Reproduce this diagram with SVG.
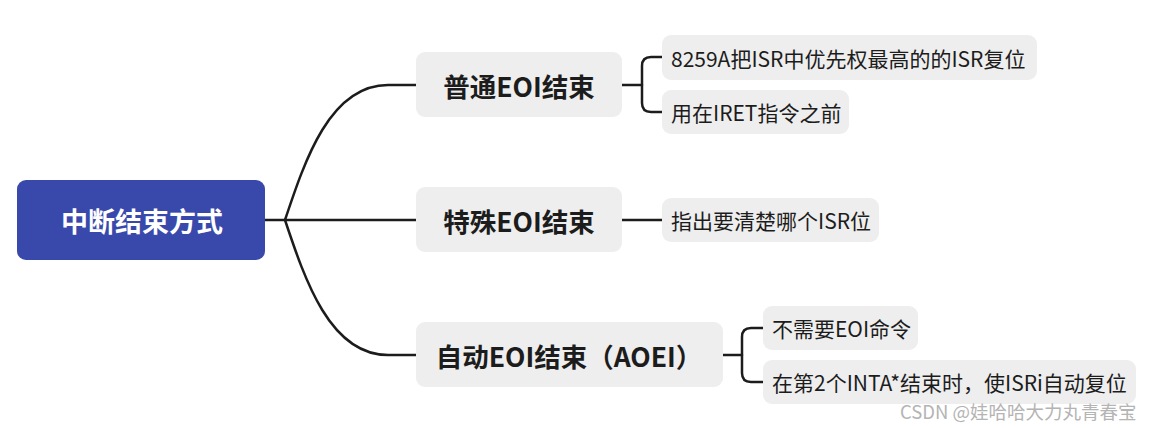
<svg xmlns="http://www.w3.org/2000/svg" width="1167" height="428" viewBox="0 0 1167 428">
<style>
.ln{fill:none;stroke:#1c1c1c;stroke-width:2.5;stroke-linecap:round;stroke-linejoin:round}
.main{fill:#eeeeee}
.child{fill:#eeeeee}
.t{font-family:"Noto Sans CJK SC","Noto Sans",sans-serif;fill:#1c1c1c}
.mt{font-size:26.5px;font-weight:bold;text-anchor:middle;dominant-baseline:central}
.ct{font-size:21px;dominant-baseline:central}
</style>
<rect width="1167" height="428" fill="#ffffff"/>
<g id="connectors">
<path class="ln" d="M265,220 L416,220"/>
<path class="ln" d="M285,220 C305,160 330,85 388,85 L416,85"/>
<path class="ln" d="M285,220 C305,280 330,355 388,355 L416,355"/>
<path class="ln" d="M622,85 L642,85"/>
<path class="ln" d="M662,57 L651,57 Q642,57 642,66 L642,103 Q642,112 651,112 L662,112"/>
<path class="ln" d="M622,220 L662,220"/>
<path class="ln" d="M723,355 L742,355"/>
<path class="ln" d="M763,328 L751,328 Q742,328 742,337 L742,373 Q742,382 751,382 L763,382"/>
</g>
<g id="root">
<rect x="17" y="180" width="248" height="80" rx="9" fill="#3949ab"/>
<text class="t mt" x="142" y="220" style="fill:#ffffff;font-size:27px">中断结束方式</text>
</g>
<g id="n1">
<rect class="main" x="416" y="52" width="206" height="65" rx="9"/>
<text class="t mt" x="519" y="85">普通EOI结束</text>
</g>
<g id="n2">
<rect class="main" x="416" y="187" width="206" height="65" rx="9"/>
<text class="t mt" x="519" y="220">特殊EOI结束</text>
</g>
<g id="n3">
<rect class="main" x="416" y="322" width="307" height="65" rx="9"/>
<text class="t mt" x="569" y="355">自动EOI结束（AOEI）</text>
</g>
<g id="c11">
<rect class="child" x="662" y="35" width="375" height="45" rx="9"/>
<text class="t ct" x="671" y="57.5">8259A把ISR中优先权最高的的ISR复位</text>
</g>
<g id="c12">
<rect class="child" x="662" y="90" width="187" height="44" rx="9"/>
<text class="t ct" x="671" y="112">用在IRET指令之前</text>
</g>
<g id="c21">
<rect class="child" x="662" y="198" width="217" height="44" rx="9"/>
<text class="t ct" x="671" y="220">指出要清楚哪个ISR位</text>
</g>
<g id="c31">
<rect class="child" x="763" y="306" width="155" height="44" rx="9"/>
<text class="t ct" x="772" y="328">不需要EOI命令</text>
</g>
<g id="c32">
<rect class="child" x="763" y="360" width="373" height="44" rx="9"/>
<text class="t ct" x="772" y="382">在第2个INTA*结束时，使ISRi自动复位</text>
</g>
<text x="900" y="419" style="font-family:'Noto Sans CJK SC','Noto Sans',sans-serif;font-size:18.5px;fill:#b4b4b4">CSDN @娃哈哈大力丸青春宝</text>
</svg>
